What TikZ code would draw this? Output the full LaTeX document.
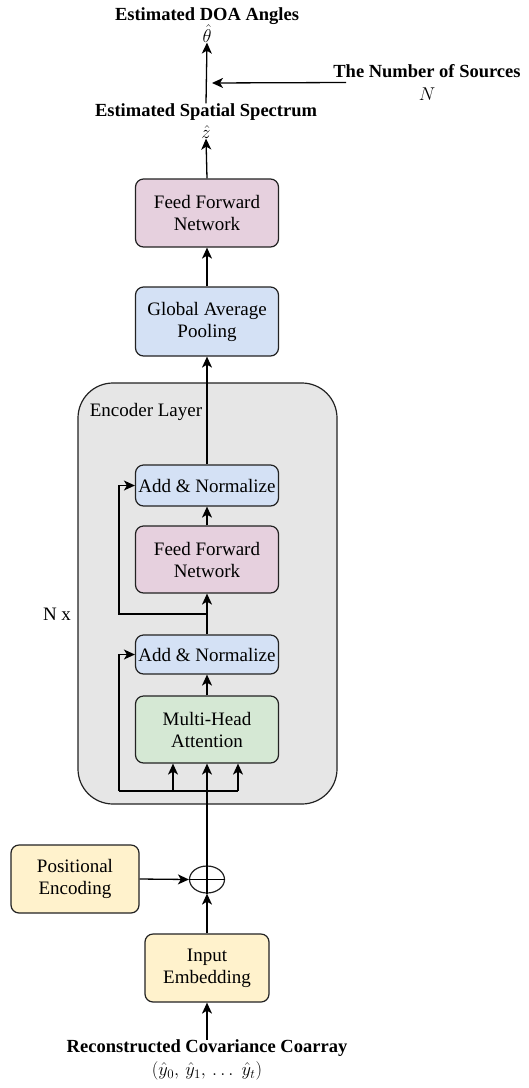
\documentclass[tikz,border=0pt]{standalone}
\usepackage{fix-cm}
\usepackage{fontspec}
\setmainfont{Liberation Serif}
\usetikzlibrary{arrows.meta,shapes.geometric}
\definecolor{ffpink}{HTML}{E6D0DE}
\definecolor{normblue}{HTML}{D4E1F5}
\definecolor{attgreen}{HTML}{D5E8D4}
\definecolor{embyellow}{HTML}{FFF2CC}
\definecolor{encgray}{HTML}{E6E6E6}
\definecolor{edge}{HTML}{222222}
\begin{document}
\begin{tikzpicture}[x=1pt,y=-1pt,
  every node/.style={font=\fontsize{19}{22}\selectfont},
  block/.style={draw=edge, line width=1.2pt, rounded corners=8pt, align=center,
    inner sep=0pt, minimum width=143pt},
  label/.style={align=center, inner sep=0pt, font=\fontsize{18.5}{23}\selectfont\bfseries},
  arr/.style={-{Stealth[length=11pt,width=10pt,inset=3pt]}, line width=1.3pt, draw=black},
  wire/.style={line width=1.3pt, draw=black}]
\useasboundingbox (0,0) rectangle (528,1088);

% encoder container
\draw[fill=encgray, draw=edge, line width=1.2pt, rounded corners=35pt] (78,383) rectangle (337,804);
\node[anchor=center] (enclab) at (146,412) {Encoder Layer};
\node (nx) at (57,614) {N x};

% processing blocks
\node[block, fill=ffpink, minimum height=68pt] (ffn1) at (207,213) {Feed Forward\\Network};
\node[block, fill=normblue, minimum height=69pt] (gap) at (207,321.5) {Global Average\\Pooling};
\node[block, fill=normblue, minimum height=41pt] (an2) at (207,485.5) {Add \& Normalize};
\node[block, fill=ffpink, minimum height=67pt] (ffn2) at (207,559.5) {Feed Forward\\Network};
\node[block, fill=normblue, minimum height=39pt] (an1) at (207,654.5) {Add \& Normalize};
\node[block, fill=attgreen, minimum height=67pt] (mha) at (207,729.5) {Multi-Head\\Attention};
\node[block, fill=embyellow, minimum width=128pt, minimum height=68pt] (pe) at (75,879) {Positional\\Encoding};
\node[block, fill=embyellow, minimum width=124pt, minimum height=68pt] (emb) at (207,968) {Input\\Embedding};
\node[draw=edge, line width=1.2pt, ellipse, minimum width=35pt, minimum height=27pt, inner sep=0pt] (plus) at (207,879.5) {};
\draw[wire] (plus.west) -- (plus.east);
\draw[wire] (plus.north) -- (plus.south);

% text labels
\node[label] (doa) at (207,25) {Estimated DOA Angles\\[-1pt]$\hat{\theta}$};
\node[label] (spec) at (206,121) {Estimated Spatial Spectrum\\[-1pt]$\hat{z}$};
\node[label] (src) at (427,82.5) {The Number of Sources\\$N$};
\node[label] (cov) at (207,1060) {Reconstructed Covariance Coarray\\{\mdseries$(\hat{y}_0,\,\hat{y}_1,\,\ldots\;\hat{y}_t)$}};

% helper points
\coordinate (join) at (207,83);
\coordinate (r2) at (207,614);
\coordinate (r2l) at (119,614);
\coordinate (bl) at (119,791);
\coordinate (bq) at (173,791);
\coordinate (br) at (238,791);

% main flow
\draw[arr] (cov.north) -- (emb.south);
\draw[arr] (emb.north) -- (plus.south);
\draw[arr] (pe.east) -- (plus.west);
\draw[arr] (plus.north) -- (mha.south);
\draw[wire] (bl) -- (br);
\draw[arr] (bq) -- (bq |- mha.south);
\draw[arr] (br) -- (br |- mha.south);
\draw[arr] (bl) |- (an1.west);
\draw[arr] (mha.north) -- (an1.south);
\draw[wire] (an1.north) -- (r2);
\draw[arr] (r2) -- (ffn2.south);
\draw[arr] (r2) -- (r2l) |- (an2.west);
\draw[arr] (ffn2.north) -- (an2.south);
\draw[arr] (an2.north) -- (gap.south);
\draw[arr] (gap.north) -- (ffn1.south);
\draw[arr] (ffn1.north) -- (spec.south);
\draw[arr] (spec.north) -- (doa.south);
\draw[arr, shorten >=5pt] ([xshift=13pt]src.west) -- (join);
\end{tikzpicture}
\end{document}
